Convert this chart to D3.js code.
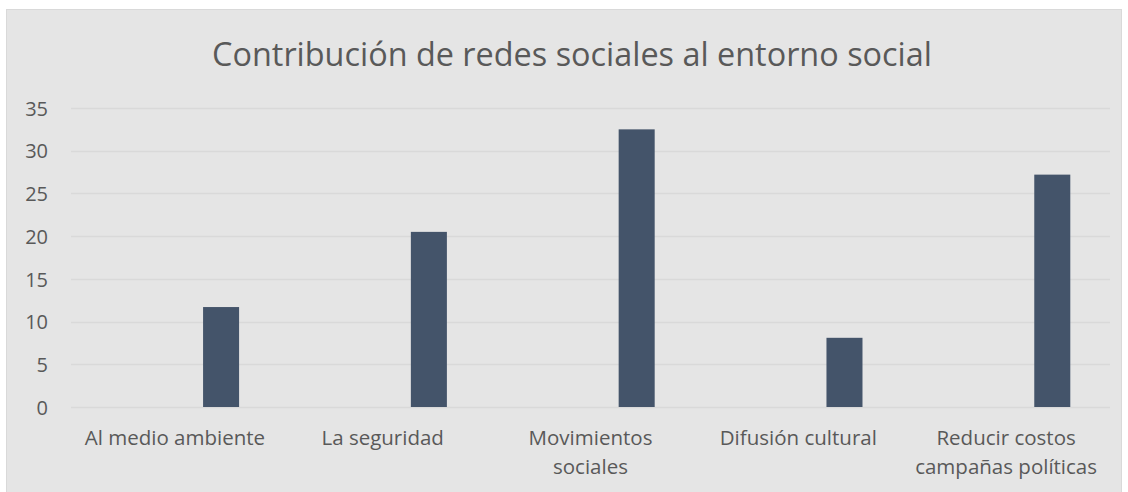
<!DOCTYPE html>
<html>
<head>
<meta charset="utf-8">
<script src="https://cdn.jsdelivr.net/npm/d3@7"></script>
<style>
  html, body { margin: 0; padding: 0; background: #ffffff; }
  svg { display: block; }
  text { font-family: "Open Sans", "DejaVu Sans", sans-serif; fill: #595959; }
</style>
</head>
<body>
<svg width="1128" height="492"></svg>
<script>
// datos
var categorias = [
  ["Al medio ambiente"],
  ["La seguridad"],
  ["Movimientos", "sociales"],
  ["Difusión cultural"],
  ["Reducir costos", "campañas políticas"]
];
var series = ["Serie 1", "Serie 2"];
var serie1 = [null, null, null, null, null];   // vacía en el original
var serie2 = [11.7, 20.5, 32.5, 8.1, 27.2];
var ticksY = [0, 5, 10, 15, 20, 25, 30, 35];
var titulo = "Contribución de redes sociales al entorno social";

var svg = d3.select("svg"),
    width = +svg.attr("width"),
    height = +svg.attr("height");

var margin = {left: 71, right: 18, top: 108, bottom: 85};

// fondo y borde
svg.append("rect")
  .attr("x", 6.5).attr("y", 9.5)
  .attr("width", 1115).attr("height", 490)
  .attr("fill", "#e5e5e5")
  .attr("stroke", "#d9d9d9");

var x0 = d3.scaleBand()
  .domain(d3.range(categorias.length))
  .range([margin.left, width - margin.right]);

var x1 = d3.scaleBand()
  .domain(series)
  .range([0, x0.bandwidth()])
  .paddingInner(0.61)
  .paddingOuter(0.43);

var y = d3.scaleLinear()
  .domain([0, 35])
  .range([407, 108]);

// rejilla
svg.append("g")
  .selectAll("line")
  .data(ticksY)
  .enter().append("line")
  .attr("x1", margin.left).attr("x2", width - margin.right)
  .attr("y1", function(d) { return Math.round(y(d)) + 0.5; })
  .attr("y2", function(d) { return Math.round(y(d)) + 0.5; })
  .attr("stroke", "#d9d9d9")
  .attr("stroke-width", 1.5);

// eje y
var ejeY = svg.append("g")
  .attr("transform", "translate(" + 48 + ",0)")
  .call(d3.axisLeft(y).tickValues(ticksY).tickSize(0).tickPadding(0));
ejeY.select(".domain").remove();
ejeY.selectAll("text")
  .attr("dy", "0.36em")
  .style("font-size", "20px")
  .attr("fill", "#595959");

// barras
var datos = [];
serie1.forEach(function(v, i) { if (v != null) datos.push({i: i, s: series[0], v: v}); });
serie2.forEach(function(v, i) { if (v != null) datos.push({i: i, s: series[1], v: v}); });

svg.append("g")
  .selectAll("rect")
  .data(datos)
  .enter().append("rect")
  .attr("x", function(d) { return x0(d.i) + x1(d.s); })
  .attr("width", x1.bandwidth())
  .attr("y", function(d) { return y(d.v); })
  .attr("height", function(d) { return y(0) - y(d.v); })
  .attr("fill", "#44546a");

// etiquetas de categoría (una línea = un text)
var lineas = [];
categorias.forEach(function(c, i) {
  c.forEach(function(t, j) { lineas.push({i: i, j: j, t: t}); });
});
svg.append("g")
  .selectAll("text")
  .data(lineas)
  .enter().append("text")
  .attr("text-anchor", "middle")
  .attr("x", function(d) { return x0(d.i) + x0.bandwidth() / 2; })
  .attr("y", function(d) { return 445 + d.j * 29; })
  .style("font-size", "20.5px")
  .text(function(d) { return d.t; });

// título
svg.append("text")
  .attr("x", 572)
  .attr("y", 66)
  .attr("text-anchor", "middle")
  .style("font-size", "32.4px")
  .text(titulo);
</script>
</body>
</html>
